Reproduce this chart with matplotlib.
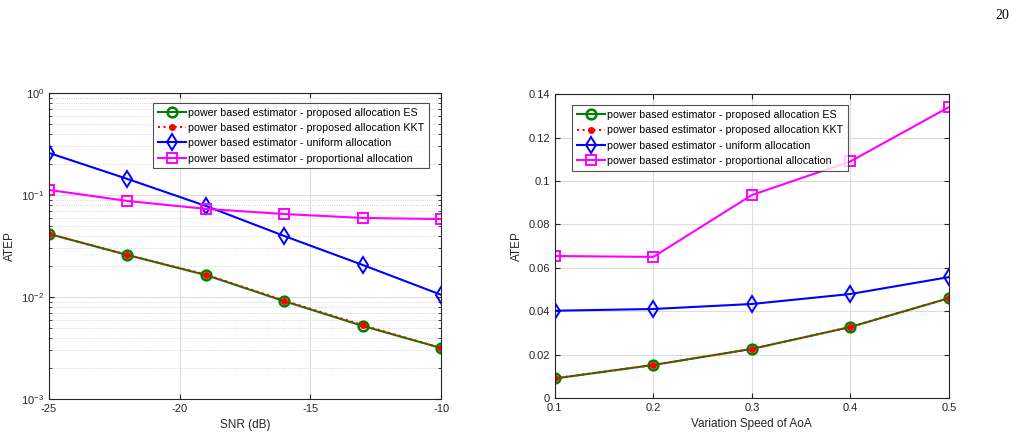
import matplotlib
matplotlib.use("Agg")
import matplotlib.pyplot as plt
import numpy as np

plt.rcParams['font.family'] = ['Liberation Sans', 'DejaVu Sans']
plt.rcParams['axes.unicode_minus'] = False

snr = [-25, -22, -19, -16, -13, -10]
es_snr = [0.0415, 0.0258, 0.0164, 0.0091, 0.0052, 0.00316]
kkt_snr = [0.0415, 0.0258, 0.0166, 0.0092, 0.0053, 0.00316]
uni_snr = [0.258, 0.1435, 0.078, 0.0396, 0.0206, 0.0105]
prop_snr = [0.112, 0.0873, 0.073, 0.065, 0.0595, 0.058]

speed = [0.1, 0.2, 0.3, 0.4, 0.5]
es_sp = [0.0090, 0.0152, 0.0226, 0.0327, 0.0460]
kkt_sp = [0.0090, 0.0152, 0.0226, 0.0327, 0.0460]
uni_sp = [0.0402, 0.0410, 0.0433, 0.0479, 0.0557]
prop_sp = [0.0654, 0.0650, 0.0935, 0.1090, 0.1340]

labels = ['power based estimator - proposed allocation ES',
          'power based estimator - proposed allocation KKT',
          'power based estimator - uniform allocation',
          'power based estimator - proportional allocation']

fig = plt.figure(figsize=(10.16, 4.43), dpi=100)
fig.text(0.993, 0.965, '20', ha='right', va='center', fontsize=10, family='Liberation Serif')

ax1 = fig.add_axes([0.0482, 0.0993, 0.386, 0.691])
ax2 = fig.add_axes([0.546, 0.1016, 0.388, 0.686])

def draw(ax, x, es, kkt, uni, prop, legpos):
    ax.plot(x, es, color='#008000', lw=1.5, marker='o', ms=7, mfc='none', mew=1.8, label=labels[0])
    ax.plot(x, kkt, color='red', lw=1.5, ls=':', marker='.', ms=8, label=labels[1])
    ax.plot(x, uni, color='blue', lw=1.5, marker='d', ms=8.5, mfc='none', mew=1.4, label=labels[2])
    ax.plot(x, prop, color='magenta', lw=1.5, marker='s', ms=7, mfc='none', mew=1.4, label=labels[3])
    for s in ax.spines.values():
        s.set_color('#262626')
        s.set_linewidth(0.8)
    ax.tick_params(which='both', labelsize=8, colors='#262626', direction='in',
                   top=True, right=True)
    ax.tick_params(which='major', length=3.5)
    ax.tick_params(which='minor', length=2)
    leg = ax.legend(loc='upper left', bbox_to_anchor=legpos, fontsize=7.7, frameon=True,
                    fancybox=False, edgecolor='#262626', handlelength=2.6, borderpad=0.45,
                    labelspacing=0.5, handletextpad=0.2, borderaxespad=0.0)
    leg.get_frame().set_linewidth(0.8)

draw(ax1, snr, es_snr, kkt_snr, uni_snr, prop_snr, (0.265, 0.968))
ax1.set_yscale('log')
ax1.set_xlim(-25, -10)
ax1.set_ylim(1e-3, 1)
ax1.set_xticks([-25, -20, -15, -10])
ax1.grid(True, which='major', color='#dcdcdc', lw=0.8)
ax1.grid(True, which='minor', color='#c8c8c8', lw=0.6, ls=':')
ax1.set_xlabel('SNR (dB)', fontsize=8.5, color='#262626')
ax1.set_ylabel('ATEP', fontsize=8.5, color='#262626')

draw(ax2, speed, es_sp, kkt_sp, uni_sp, prop_sp, (0.045, 0.963))
ax2.set_xlim(0.1, 0.5)
ax2.set_ylim(0, 0.14)
ax2.set_xticks([0.1, 0.2, 0.3, 0.4, 0.5])
ax2.set_yticks(np.arange(0, 0.141, 0.02))
ax2.set_yticklabels(['0', '0.02', '0.04', '0.06', '0.08', '0.1', '0.12', '0.14'])
ax2.set_xticklabels(['0.1', '0.2', '0.3', '0.4', '0.5'])
ax2.grid(True, color='#dcdcdc', lw=0.8)
ax2.set_xlabel('Variation Speed of AoA', fontsize=8.5, color='#262626')
ax2.set_ylabel('ATEP', fontsize=8.5, color='#262626')

fig.savefig('out.png', dpi=100)
